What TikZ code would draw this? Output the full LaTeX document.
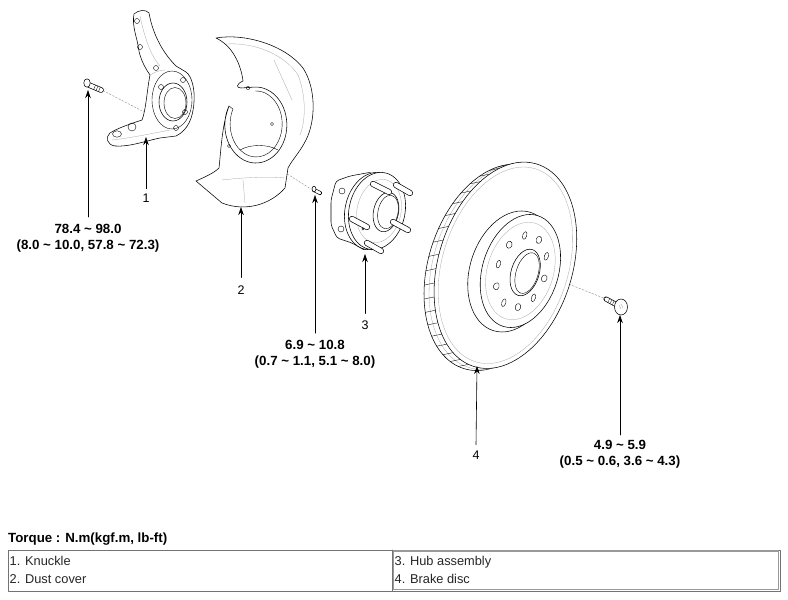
\documentclass[tikz,border=0pt]{standalone}
\usepackage{fontspec}
\setmainfont{Liberation Sans}
\usetikzlibrary{arrows.meta,calc}
\newcommand\tld{\textasciitilde}
\begin{document}
\begin{tikzpicture}[x=1pt,y=-1pt,line join=round,line cap=round,
  part/.style={draw=black,line width=0.55pt,fill=white},
  edge/.style={draw=black,line width=0.4pt},
  faint/.style={draw=black!35,line width=0.3pt},
  axisline/.style={draw=black!45,line width=0.4pt,dash pattern=on 2pt off 1.5pt},
  callout/.style={draw=black,line width=0.6pt,-{Stealth[length=8pt,width=5.5pt]}},
  torque/.style={font=\fontsize{13.3}{16}\selectfont\bfseries,inner sep=0pt,anchor=base},
  num/.style={font=\fontsize{12.5}{14}\selectfont,inner sep=0pt,anchor=base},
  cell/.style={font=\fontsize{12.8}{14}\selectfont,text=black!85,anchor=base west,inner sep=0pt},
  studout/.style={line width=6pt,draw=black,line cap=round},
  studin/.style={line width=4.6pt,draw=white,line cap=round}]
\useasboundingbox (0,0) rectangle (788,600);
\fill[white] (0,0) rectangle (788,600);

% ---------------- axis (dashed) lines ----------------
\coordinate (kb) at (100,89);
\coordinate (kc) at (148,114);
\draw[axisline] (kb) -- (kc);
\coordinate (cb) at (284,172);
\coordinate (cbb) at (311,189);
\draw[axisline] (cb) -- (cbb);
\coordinate (dc) at (556,279);
\coordinate (dsb) at (606,299);
\draw[axisline] (dc) -- (dsb);

% ---------------- knuckle bolt ----------------
\draw[studout,line width=5.5pt] (89,85) -- (101,90);
\draw[studin,line width=4.1pt] (89,85) -- (101,90);
\foreach \t in {0.45,0.65,0.85} \draw[edge,line width=0.3pt] ($(89,85)!\t!(101,90)$) ++(1,-2) -- ++(-1.6,4);
\draw[part] (87,83) ellipse[x radius=3.2,y radius=4.2];

% ---------------- knuckle ----------------
\draw[part] (134,14) .. controls (138,10) and (146,9) .. (149,13)
  .. controls (152,30) and (160,50) .. (176,66)
  -- (186,72) .. controls (192,76) and (195,90) .. (194,102)
  .. controls (193,118) and (188,130) .. (176,136)
  -- (160,138) .. controls (145,141) and (130,147) .. (115,146)
  .. controls (107,145) and (105,137) .. (110,133)
  .. controls (118,128) and (130,124) .. (142,120)
  .. controls (146,110) and (147,90) .. (150,75)
  .. controls (143,65) and (139,55) .. (138,45)
  .. controls (136,35) and (132,25) .. (134,14) -- cycle;
\draw[faint] (140,16) .. controls (144,35) and (150,55) .. (160,66);
\draw[faint] (112,140) .. controls (130,138) and (150,134) .. (170,130);
\draw[faint] (150,75) .. controls (155,72) and (160,70) .. (165,70);
\draw[edge] (172,100) ellipse[x radius=20,y radius=29];
\draw[part] (173,102) ellipse[x radius=14,y radius=19];
\draw[edge] (175,103) ellipse[x radius=11,y radius=15.5];
\foreach \p in {(137,21),(140,47),(156,68),(183,80),(185,112),(161,87),(176,128)}
  \draw[edge] \p circle[radius=2.5];
\draw[edge] (132,127) circle[radius=4];
\draw[edge] (117,134) ellipse[x radius=4.5,y radius=3.2];

% ---------------- dust cover ----------------
\draw[part] (216,38) .. controls (245,33) and (285,45) .. (303,68)
  .. controls (316,88) and (316,120) .. (306,140)
  .. controls (300,152) and (292,160) .. (288,168)
  -- (285,188)
  .. controls (270,205) and (245,212) .. (222,203)
  -- (196,181)
  .. controls (205,177) and (214,173) .. (219,168)
  .. controls (221,150) and (222,125) .. (229,106)
  arc[start angle=210,end angle=-95,x radius=31,y radius=38]
  -- (241,88) .. controls (236,88) and (236,84) .. (243,81)
  .. controls (241,65) and (233,46) .. (216,38) -- cycle;
\draw[edge] (233,109) arc[start angle=207,end angle=-92,x radius=26,y radius=33];
\draw[edge] (229,106) -- (233,109);
\draw[faint] (226,44) .. controls (255,42) and (285,55) .. (298,75);
\draw[faint] (298,75) .. controls (306,95) and (306,120) .. (300,135);
\draw[faint] (222,180) .. controls (240,178) and (265,176) .. (285,178);
\draw[faint] (243,180) -- (245,203);
\draw[faint] (274,60) -- (292,100);
\draw[edge] (240,150) .. controls (250,144) and (268,144) .. (278,150);
\draw[edge] (248,88) ellipse[x radius=2,y radius=1.5];
\draw[edge] (229,146) circle[radius=1.6];
\draw[edge] (272,124) circle[radius=1.6];

% ---------------- dust cover bolt ----------------
\draw[studout,line width=4pt] (314,190) -- (320,193);
\draw[studin,line width=2.6pt] (314,190) -- (320,193);
\draw[part] (314,189) ellipse[x radius=2,y radius=2.8];

% ---------------- hub assembly ----------------
\draw[part,rounded corners=3] (350,176) -- (336,181) -- (331,200) -- (331,225) -- (337,238) -- (352,243) -- (366,251) -- (372,172) -- cycle;
\draw[edge] (342,191) circle[radius=3];
\draw[edge] (341,229) circle[radius=3];
\draw[part,rotate around={-12:(373,211)}] (373,211) ellipse[x radius=28,y radius=39];
\draw[part,rotate around={-12:(377,211)}] (377,211) ellipse[x radius=28,y radius=39];
\draw[faint,rotate around={-12:(379,211)}] (379,211) ellipse[x radius=22,y radius=32];
\draw[part,rotate around={-12:(386,212)}] (386,212) ellipse[x radius=12.5,y radius=20];
\draw[edge,rotate around={-12:(388,212)}] (388,212) ellipse[x radius=10,y radius=17];
\foreach \a/\b in {{(373,184)}/{(389,192)},{(396,185)}/{(410,193)},{(352,219)}/{(367,227)},{(393,222)}/{(408,230)},{(367,243)}/{(381,251)}}{
  \draw[studout] \a -- \b; \draw[studin] \a -- \b;}
\draw[edge] (363,229) circle[radius=1.2];

% ---------------- brake disc ----------------
\begin{scope}[shift={(501,266)},rotate=-17.3]
  \draw[part] (-5,3) ellipse[x radius=67,y radius=106];
  \draw[faint] (-0.5,0.5) ellipse[x radius=67,y radius=106];
  \foreach \a in {95,103,...,265}
    \draw[edge,line width=0.35pt] ({-5+67*cos(\a)},{3+106*sin(\a)}) -- ({4+67*cos(\a)},{-2+106*sin(\a)});
  \draw[part] (4,-2) ellipse[x radius=67,y radius=106];
  \draw[faint] (4,-2) ellipse[x radius=63,y radius=101];
  \draw[part] (12,2) ellipse[x radius=42,y radius=62];
  \draw[part] (20,-1) ellipse[x radius=38,y radius=58];
  \draw[faint] (20,-1) ellipse[x radius=33,y radius=50];
  \draw[part] (25,-1) ellipse[x radius=14,y radius=24];
  \draw[edge] (27,-1) ellipse[x radius=11,y radius=21];
  \foreach \a in {0,72,...,288}
    \draw[edge] ({21+24*cos(\a)},{-1+37*sin(\a)}) ellipse[x radius=2.8,y radius=3.6];
  \foreach \a in {36,108,...,324}
    \draw[edge] ({21+24*cos(\a)},{-1+37*sin(\a)}) ellipse[x radius=2,y radius=4];
\end{scope}

% ---------------- disc screw ----------------
\draw[studout,line width=5pt] (606,299) -- (617,305);
\draw[studin,line width=3.6pt] (606,299) -- (617,305);
\foreach \t in {0.25,0.45,0.65} \draw[edge,line width=0.3pt] ($(606,299)!\t!(617,305)$) ++(1,-2) -- ++(-1.8,3.8);
\draw[part] (621,307) ellipse[x radius=6.5,y radius=8];
\draw[faint] (619,305) -- (621,309) (621,304) -- (623,308);

% ---------------- labels and callouts ----------------
\node[torque] (t1a) at (88,233) {78.4 \tld\ 98.0};
\node[torque] (t1b) at (88,249) {(8.0 \tld\ 10.0, 57.8 \tld\ 72.3)};
\coordinate (t1p) at (88,90);
\draw[callout] ([yshift=6.5pt]t1a.north) -- (t1p);

\node[num] (n1) at (146,202.5) {1};
\coordinate (p1) at (146,137);
\draw[callout] ([yshift=5pt]n1.north) -- (p1);

\node[num] (n2) at (241,294.5) {2};
\coordinate (p2) at (241,207);
\draw[callout] ([yshift=8pt]n2.north) -- (p2);

\node[torque] (t2a) at (315,349) {6.9 \tld\ 10.8};
\node[torque] (t2b) at (315,365) {(0.7 \tld\ 1.1, 5.1 \tld\ 8.0)};
\coordinate (t2p) at (315,195);
\draw[callout] ([yshift=6.4pt]t2a.north) -- (t2p);

\node[num] (n3) at (365,329.5) {3};
\coordinate (p3) at (365,254);
\draw[callout] ([yshift=7pt]n3.north) -- (p3);

\node[num] (n4) at (476,459.5) {4};
\coordinate (p4) at (477,366);
\draw[callout] ([yshift=6pt]n4.north) -- (p4);

\node[torque] (t3a) at (620,449) {4.9 \tld\ 5.9};
\node[torque] (t3b) at (620,465) {(0.5 \tld\ 0.6, 3.6 \tld\ 4.3)};
\coordinate (t3p) at (620,315);
\draw[callout] ([yshift=4.5pt]t3a.north) -- (t3p);

% ---------------- legend table ----------------
\node[torque,anchor=base west] (tq) at (8,542) {Torque : N.m(kgf.m, lb-ft)};
\draw[black!55,line width=0.8pt] (8,550) rectangle (780,591);
\draw[black!55,line width=0.8pt] (392,550) -- (392,591);
\draw[black!40,line width=1.2pt] (393.5,551) -- (778.8,551) -- (778.8,589.8) -- (393.5,589.8) -- cycle;
\node[cell] (c1) at (9.5,565.5) {1. Knuckle};
\node[cell] (c2) at (9.5,583.5) {2. Dust cover};
\node[cell] (c3) at (394.5,565.5) {3. Hub assembly};
\node[cell] (c4) at (394.5,583.5) {4. Brake disc};
\end{tikzpicture}
\end{document}
